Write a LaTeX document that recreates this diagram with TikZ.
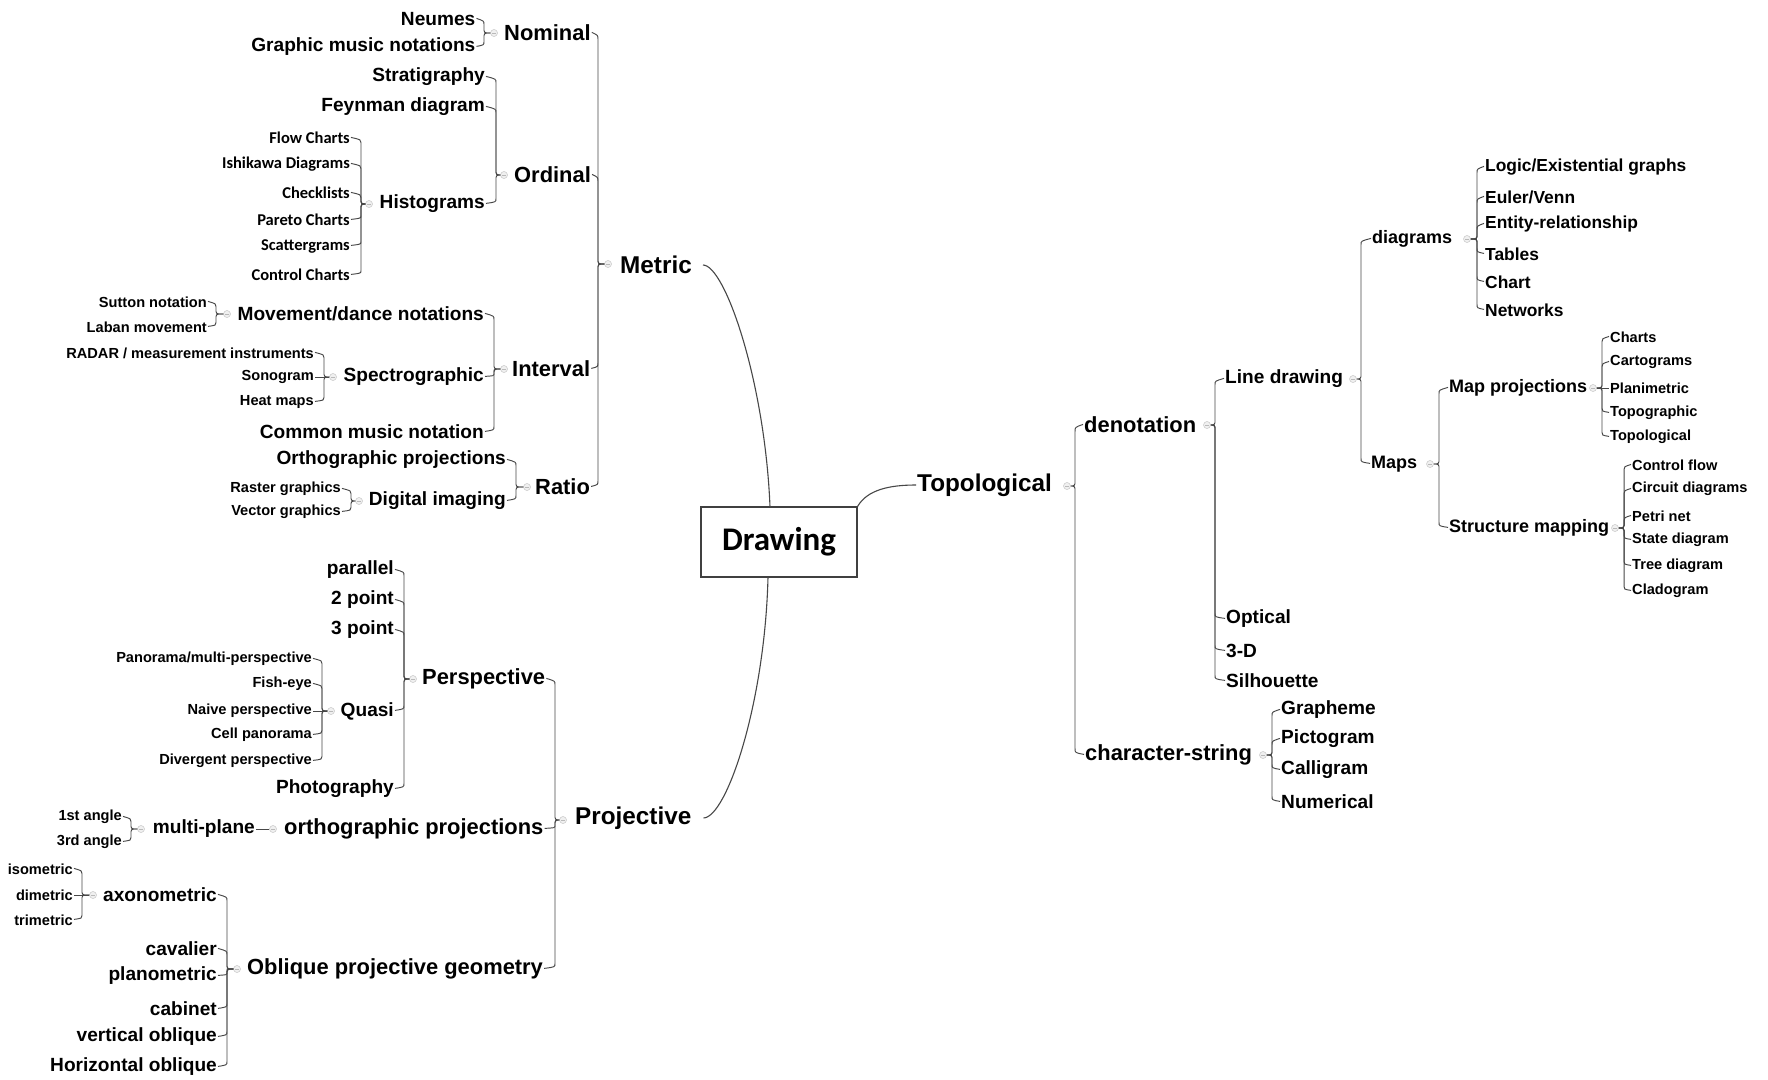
\documentclass[tikz,border=0pt]{standalone}
\usepackage{fontspec}
\setmainfont{Liberation Sans}
\newfontfamily\calib{Carlito}
\usetikzlibrary{calc}
\begin{document}
\begin{tikzpicture}[x=1pt,y=-1pt]
\tikzset{
 base/.style={inner sep=1pt, text=black},
 Lone/.style={base,font=\bfseries\fontsize{24.3}{26}\selectfont},
 Ltwo/.style={base,font=\bfseries\fontsize{21.9}{24}\selectfont},
 Lthree/.style={base,font=\bfseries\fontsize{19.1}{21}\selectfont},
 Lfour/.style={base,font=\bfseries\fontsize{18}{20}\selectfont},
 Lfive/.style={base,font=\bfseries\fontsize{17.4}{19}\selectfont},
 Lsmall/.style={base,font=\bfseries\fontsize{14.6}{16}\selectfont},
 Lcal/.style={base,font=\calib\bfseries\fontsize{16.5}{18}\selectfont},
 lft/.style={anchor=east}, rgt/.style={anchor=west},
 pdot/.style={circle, minimum size=7pt, inner sep=0pt, fill=gray!12, draw=gray!45, line width=0.5pt,
   path picture={\draw[gray!55,line width=0.6pt] ([xshift=-2pt]path picture bounding box.center) -- ([xshift=2pt]path picture bounding box.center);}},
 conn/.style={draw=black!72, line width=0.95pt, rounded corners=2.5pt},
 rootln/.style={draw=black!72, line width=1.1pt},
}
% #1 dot, #2 brace point, #3 anchor, #4 hook offset, #5 children
\newcommand\hooks[5]{\foreach \c in {#5} {\draw[conn] (#1) -- (#2) -- ($(#2 |- \c.#3)+(0,#4)$) .. controls ($(#2 |- \c.#3)+(0,0.25*#4)$) .. ([yshift=0.6pt]\c.#3);}}
\useasboundingbox (0,0) rectangle (1768,1079);
\fill[white] (0,0) rectangle (1768,1079);
\begin{scope}[yshift=-2pt]
% root
\node[draw=black!75, line width=1.1pt, minimum width=156pt, minimum height=70pt, inner sep=0pt, font=\calib\bfseries\fontsize{33}{36}\selectfont] (root) at (779,540) {Drawing};
\coordinate (rootT) at (770,505);
\coordinate (rootB) at (768,575);

% level 1
\node[Lone,rgt] (metric) at (619,263) {Metric};
\node[pdot] (metricd) at (608,262) {}; \coordinate (metricb) at (598,262);
\node[Lone,rgt] (proj) at (574,816) {Projective};
\node[pdot] (projd) at (563,818) {}; \coordinate (projb) at (555,818);
\node[Lone,rgt] (topo) at (916,483) {Topological};
\node[pdot] (topod) at (1067,484) {}; \coordinate (topob) at (1075,484);

% ---- Metric side
\node[Ltwo,rgt] (nominal) at (503,31) {Nominal};
\node[pdot] (nomd) at (494,31) {}; \coordinate (nomb) at (484,31);
\node[Lthree,lft] (neumes) at (476.5,17) {Neumes};
\node[Lthree,lft] (gmn) at (476.5,45) {Graphic music notations};

\node[Ltwo,rgt] (ordinal) at (513,173) {Ordinal};
\node[pdot] (ordd) at (504,173) {}; \coordinate (ordb) at (496,173);
\node[Lthree,lft] (strat) at (486,75) {Stratigraphy};
\node[Lthree,lft] (feyn) at (486,105) {Feynman diagram};
\node[Lthree,lft] (histo) at (486,202) {Histograms};
\node[pdot] (histd) at (369,202) {}; \coordinate (histb) at (361,202);
\node[Lcal,lft] (flow) at (351,136) {Flow Charts};
\node[Lcal,lft] (ishi) at (351,162) {Ishikawa Diagrams};
\node[Lcal,lft] (check) at (351,191) {Checklists};
\node[Lcal,lft] (pareto) at (351,218) {Pareto Charts};
\node[Lcal,lft] (scatter) at (351,244) {Scattergrams};
\node[Lcal,lft] (control) at (351,273) {Control Charts};

\node[Ltwo,rgt] (interval) at (511,367) {Interval};
\node[pdot] (intd) at (504,367) {}; \coordinate (intb) at (494,367);
\node[Lthree,lft] (move) at (485,312) {Movement/dance notations};
\node[Lthree,lft] (spec) at (485,375) {Spectrographic};
\node[Lthree,lft] (cmn) at (485,430) {Common music notation};
\node[pdot] (moved) at (227,312) {}; \coordinate (moveb) at (216,312);
\node[Lsmall,lft] (sutton) at (208,300) {Sutton notation};
\node[Lsmall,lft] (laban) at (208,325) {Laban movement};
\node[pdot] (specd) at (333,375) {}; \coordinate (specb) at (324,375);
\node[Lsmall,lft] (radar) at (315,351) {RADAR / measurement instruments};
\node[Lsmall,lft] (sono) at (315,375) {Sonogram};
\node[Lsmall,lft] (heat) at (315,400) {Heat maps};

\node[Ltwo,rgt] (ratio) at (534,485) {Ratio};
\node[pdot] (ratd) at (527,485) {}; \coordinate (ratb) at (516,485);
\node[Lthree,lft] (orthoA) at (507,458) {Orthographic projections};
\node[Lthree,lft] (digi) at (507,499) {Digital imaging};
\node[pdot] (digid) at (359,499) {}; \coordinate (digib) at (351,499);
\node[Lsmall,lft] (raster) at (342,487) {Raster graphics};
\node[Lsmall,lft] (vector) at (342,510) {Vector graphics};

% ---- Projective side
\node[Ltwo,rgt] (persp) at (421,677) {Perspective};
\node[pdot] (perd) at (413,677) {}; \coordinate (perb) at (404,677);
\node[Lthree,lft] (par) at (395,568) {parallel};
\node[Lthree,lft] (ptwo) at (395,598) {2 point};
\node[Lthree,lft] (pthree) at (395,628) {3 point};
\node[Lthree,lft] (quasi) at (395,709) {Quasi};
\node[Lthree,lft] (photo) at (395,787) {Photography};
\node[pdot] (quad) at (331,709) {}; \coordinate (quab) at (322,709);
\node[Lsmall,lft] (pano) at (313,657) {Panorama/multi-perspective};
\node[Lsmall,lft] (fish) at (313,682) {Fish-eye};
\node[Lsmall,lft] (naive) at (313,709) {Naive perspective};
\node[Lsmall,lft] (cell) at (313,733) {Cell panorama};
\node[Lsmall,lft] (diverg) at (313,759) {Divergent perspective};

\node[Ltwo,rgt] (orthp) at (283,827) {orthographic projections};
\node[pdot] (orthd) at (273,827) {};
\node[Lthree,lft] (mp) at (256,827) {multi-plane};
\node[pdot] (mpd) at (141,827) {}; \coordinate (mpb) at (131,827);
\node[Lsmall,lft] (aone) at (123,815) {1st angle};
\node[Lsmall,lft] (athree) at (123,840) {3rd angle};

\node[Ltwo,rgt] (obl) at (246,967) {Oblique projective geometry};
\node[pdot] (obld) at (237,967) {}; \coordinate (oblb) at (227,967);
\node[Lthree,lft] (axo) at (218,893) {axonometric};
\node[Lthree,lft] (cav) at (218,947) {cavalier};
\node[Lthree,lft] (plano) at (218,974) {planometric};
\node[Lthree,lft] (cab) at (218,1007) {cabinet};
\node[Lthree,lft] (vobl) at (218,1035) {vertical oblique};
\node[Lthree,lft] (hobl) at (218,1065) {Horizontal oblique};
\node[pdot] (axod) at (93,893) {}; \coordinate (axob) at (82,893);
\node[Lsmall,lft] (iso) at (74,867) {isometric};
\node[Lsmall,lft] (dim) at (74,893) {dimetric};
\node[Lsmall,lft] (tri) at (74,918) {trimetric};

% ---- Topological side
\node[Ltwo,rgt] (deno) at (1083,423) {denotation};
\node[pdot] (denod) at (1207,423) {}; \coordinate (denob) at (1215,423);
\node[Lthree,rgt] (ld) at (1224,377) {Line drawing};
\node[Lthree,rgt] (opt) at (1225,617) {Optical};
\node[Lthree,rgt] (threed) at (1225,649) {3-D};
\node[Lthree,rgt] (sil) at (1225,679) {Silhouette};
\node[pdot] (ldd) at (1353,377) {}; \coordinate (ldb) at (1361,377);
\node[Lfour,rgt] (dia) at (1371,237) {diagrams};
\node[Lfour,rgt] (maps) at (1370,462) {Maps};
\node[pdot] (diad) at (1467,237) {}; \coordinate (diab) at (1477,237);
\node[Lfive,rgt] (logic) at (1484,165) {Logic/Existential graphs};
\node[Lfive,rgt] (euler) at (1484,195) {Euler/Venn};
\node[Lfive,rgt] (er) at (1484,222) {Entity-relationship};
\node[Lfive,rgt] (tables) at (1484,252) {Tables};
\node[Lfive,rgt] (chart) at (1484,280) {Chart};
\node[Lfive,rgt] (netw) at (1484,308) {Networks};
\node[pdot] (mapsd) at (1430,462) {}; \coordinate (mapsb) at (1439,462);
\node[Lfour,rgt] (mproj) at (1448,386) {Map projections};
\node[Lfour,rgt] (smap) at (1448,526) {Structure mapping};
\node[pdot] (mpjd) at (1593,386) {}; \coordinate (mpjb) at (1602,386);
\node[Lsmall,rgt] (charts) at (1609,335) {Charts};
\node[Lsmall,rgt] (carto) at (1609,360) {Cartograms};
\node[Lsmall,rgt] (plani) at (1609,386) {Planimetric};
\node[Lsmall,rgt] (topog) at (1609,411) {Topographic};
\node[Lsmall,rgt] (topol) at (1609,435) {Topological};
\node[pdot] (smd) at (1615,526) {}; \coordinate (smb) at (1624,526);
\node[Lsmall,rgt] (cflow) at (1631,463) {Control flow};
\node[Lsmall,rgt] (circ) at (1631,487) {Circuit diagrams};
\node[Lsmall,rgt] (petri) at (1631,514) {Petri net};
\node[Lsmall,rgt] (state) at (1631,538) {State diagram};
\node[Lsmall,rgt] (tree) at (1631,564) {Tree diagram};
\node[Lsmall,rgt] (clado) at (1631,589) {Cladogram};

\node[Ltwo,rgt] (chars) at (1084,753) {character-string};
\node[pdot] (chd) at (1263,753) {}; \coordinate (chb) at (1272,753);
\node[Lthree,rgt] (graph) at (1280,708) {Grapheme};
\node[Lthree,rgt] (picto) at (1280,737) {Pictogram};
\node[Lthree,rgt] (calli) at (1280,768) {Calligram};
\node[Lthree,rgt] (numer) at (1280,800) {Numerical};

% ---- root connectors
\draw[rootln] ([xshift=10pt]metric.east) .. controls (725,263) and (765,380) .. (rootT);
\draw[rootln] (rootB) .. controls (765,700) and (727,815) .. ([xshift=11pt]proj.east);
\draw[rootln] (root.north east) .. controls +(10,-17) and +(-26,0) .. (topo.west);

% ---- branches (left side: east anchors)
\hooks{metricd}{metricb}{east}{9}{nominal,ordinal}
\hooks{metricd}{metricb}{east}{-9}{interval,ratio}
\hooks{nomd}{nomb}{east}{8}{neumes}
\hooks{nomd}{nomb}{east}{-8}{gmn}
\hooks{ordd}{ordb}{east}{8}{strat,feyn}
\hooks{ordd}{ordb}{east}{-8}{histo}
\hooks{histd}{histb}{east}{7}{flow,ishi,check}
\hooks{histd}{histb}{east}{-7}{pareto,scatter,control}
\hooks{intd}{intb}{east}{8}{move}
\hooks{intd}{intb}{east}{-5}{spec}
\hooks{intd}{intb}{east}{-8}{cmn}
\hooks{moved}{moveb}{east}{7}{sutton}
\hooks{moved}{moveb}{east}{-7}{laban}
\hooks{specd}{specb}{east}{7}{radar}
\hooks{specd}{specb}{east}{-7}{heat}
\draw[conn] (specd) -- (sono);
\hooks{ratd}{ratb}{east}{8}{orthoA}
\hooks{ratd}{ratb}{east}{-8}{digi}
\hooks{digid}{digib}{east}{7}{raster}
\hooks{digid}{digib}{east}{-7}{vector}

\hooks{projd}{projb}{east}{8}{persp}
\hooks{projd}{projb}{east}{-5}{orthp}
\hooks{projd}{projb}{east}{-8}{obl}
\hooks{perd}{perb}{east}{8}{par,ptwo,pthree}
\hooks{perd}{perb}{east}{-8}{quasi,photo}
\hooks{quad}{quab}{east}{7}{pano,fish}
\hooks{quad}{quab}{east}{-7}{cell,diverg}
\draw[conn] (quad) -- (naive);
\draw[conn] (orthd) -- (mp);
\hooks{mpd}{mpb}{east}{7}{aone}
\hooks{mpd}{mpb}{east}{-7}{athree}
\hooks{obld}{oblb}{east}{8}{axo,cav}
\hooks{obld}{oblb}{east}{-5}{plano}
\hooks{obld}{oblb}{east}{-8}{cab,vobl,hobl}
\hooks{axod}{axob}{east}{7}{iso}
\hooks{axod}{axob}{east}{-7}{tri}
\draw[conn] (axod) -- (dim);

% ---- right side: west anchors
\hooks{topod}{topob}{west}{9}{deno}
\hooks{topod}{topob}{west}{-9}{chars}
\hooks{denod}{denob}{west}{8}{ld}
\hooks{denod}{denob}{west}{-8}{opt,threed,sil}
\hooks{ldd}{ldb}{west}{8}{dia}
\hooks{ldd}{ldb}{west}{-8}{maps}
\hooks{diad}{diab}{west}{8}{logic,euler,er}
\hooks{diad}{diab}{west}{-8}{tables,chart,netw}
\hooks{mapsd}{mapsb}{west}{8}{mproj}
\hooks{mapsd}{mapsb}{west}{-8}{smap}
\hooks{mpjd}{mpjb}{west}{7}{charts,carto}
\hooks{mpjd}{mpjb}{west}{-7}{topog,topol}
\draw[conn] (mpjd) -- (plani);
\hooks{smd}{smb}{west}{7}{cflow,circ,petri}
\hooks{smd}{smb}{west}{-7}{state,tree,clado}
\hooks{chd}{chb}{west}{8}{graph,picto}
\hooks{chd}{chb}{west}{-8}{calli,numer}
\end{scope}
\end{tikzpicture}
\end{document}
